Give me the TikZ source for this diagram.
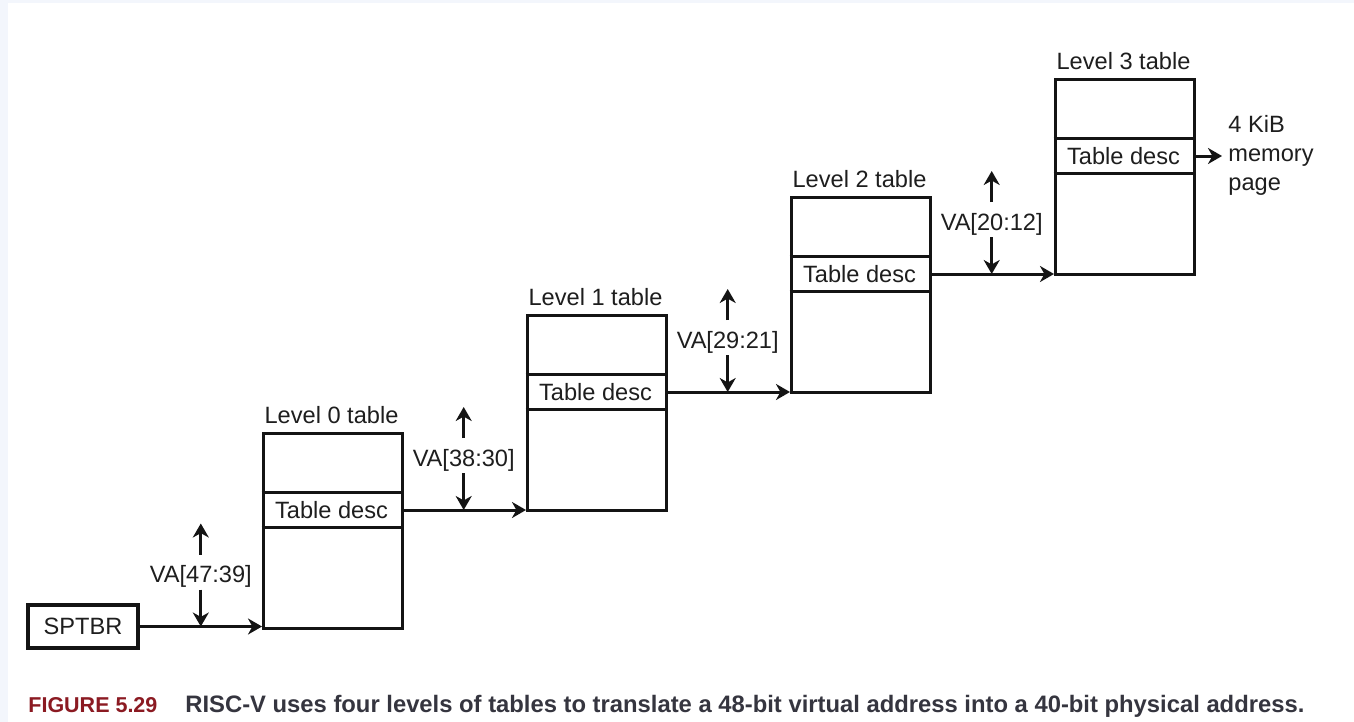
\documentclass[tikz,border=0pt]{standalone}
\usepackage{fontspec}
\setmainfont{Liberation Sans}
\usetikzlibrary{arrows.meta,calc}
\definecolor{ln}{HTML}{141414}
\definecolor{tx}{HTML}{1E1E1E}
\definecolor{figred}{HTML}{8B1A22}
\definecolor{captx}{HTML}{35353F}
\definecolor{edgeblue}{HTML}{F3F6FC}
\begin{document}
\begin{tikzpicture}[x=0.5pt,y=-0.5pt,
  tbl/.style={draw=ln, line width=1.6pt, minimum width=69.5pt, minimum height=97.5pt, inner sep=0pt, anchor=north west},
  desc/.style={minimum width=69.5pt, minimum height=17pt, inner sep=0pt, font=\fontsize{11.8}{13}\selectfont, text=tx},
  rule/.style={draw=ln, line width=1.6pt},
  lbl/.style={inner sep=0pt, font=\fontsize{11.8}{13}\selectfont, text=tx},
  arr/.style={draw=ln, line width=1.5pt, -{Stealth[length=7pt,width=8pt,inset=2.2pt]}}]
\useasboundingbox (0,0) rectangle (1354,722);
\fill[edgeblue] (0,0) rectangle (1354,722);
\fill[white] (8,3) rectangle (1354,722);

% SPTBR
\node[draw=ln, line width=1.6pt, minimum width=55pt, minimum height=21.5pt, inner sep=0pt, font=\fontsize{11.8}{13}\selectfont, text=tx] (s) at (83,626.5) {SPTBR};

% tables
\node[tbl] (t0) at (262,432) {};
\node[tbl] (t1) at (526,314) {};
\node[tbl] (t2) at (790,196) {};
\node[tbl] (t3) at (1054,78) {};

\node[desc] (d0) at (331.5,510) {Table desc};
\node[desc] (d1) at (595.5,392) {Table desc};
\node[desc] (d2) at (859.5,274) {Table desc};
\node[desc] (d3) at (1123.5,156) {Table desc};
\foreach \d in {d0,d1,d2,d3}{
  \draw[rule] (\d.north west) -- (\d.north east);
  \draw[rule] (\d.south west) -- (\d.south east);
}

\node[lbl] (l0) at (331.5,415) {Level 0 table};
\node[lbl] (l1) at (595.5,297) {Level 1 table};
\node[lbl] (l2) at (859.5,179) {Level 2 table};
\node[lbl] (l3) at (1123.5,61) {Level 3 table};

% main connectors
\draw[arr] (s.east) -- (s.east -| t0.west);
\draw[arr] (d0.east) -- (d0.east -| t1.west);
\draw[arr] (d1.east) -- (d1.east -| t2.west);
\draw[arr] (d2.east) -- (d2.east -| t3.west);

% junctions
\path (s.east) -- (s.east -| t0.west) coordinate[pos=0.5] (j0);
\path (d0.east) -- (d0.east -| t1.west) coordinate[pos=0.5] (j1);
\path (d1.east) -- (d1.east -| t2.west) coordinate[pos=0.5] (j2);
\path (d2.east) -- (d2.east -| t3.west) coordinate[pos=0.5] (j3);

\foreach \j/\t in {j0/{VA[47:39]}, j1/{VA[38:30]}, j2/{VA[29:21]}, j3/{VA[20:12]}}{
  \node[lbl] (v\j) at ($(\j)+(0,-50)$) {\t};
  \coordinate (a\j) at ($(\j)+(0,-37)$);
  \coordinate (b\j) at ($(\j)+(0,-72)$);
  \coordinate (c\j) at ($(\j)+(0,-103)$);
  \draw[arr] (a\j) -- (\j);
  \draw[arr] (b\j) -- (c\j);
}

% memory page
\node[lbl, anchor=west, align=left, font=\fontsize{11.8}{14.5}\selectfont] (mp) at (1228,155) {4 KiB\\memory\\page};
\draw[arr, shorten >=3pt] (d3.east) -- (d3.east -| mp.west);

% caption
\node[anchor=base west, inner sep=0pt, text=figred] (fig) at (28,712) {\resizebox{64.5pt}{!}{\bfseries FIGURE 5.29}};
\node[anchor=base west, inner sep=0pt, text=captx] (cap) at (185,712) {\resizebox{559.5pt}{!}{\bfseries RISC-V uses four levels of tables to translate a 48-bit virtual address into a 40-bit physical address.}};
\end{tikzpicture}
\end{document}
